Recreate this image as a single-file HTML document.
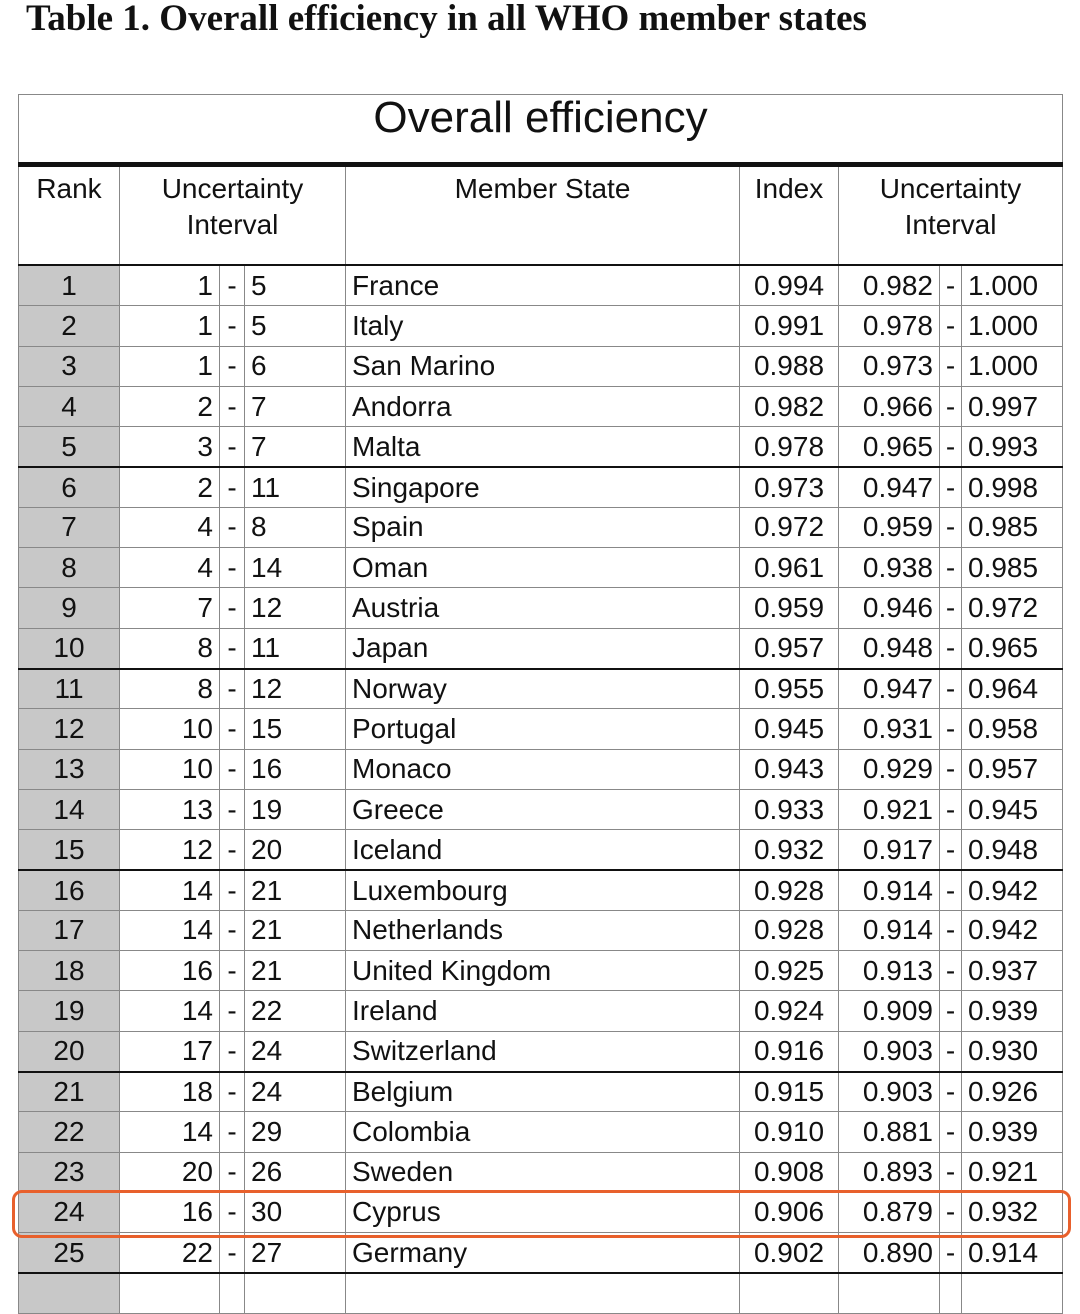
<!DOCTYPE html>
<html><head><meta charset="utf-8"><style>
body{margin:0;width:1080px;height:1279px;overflow:hidden;background:#fff;position:relative;font-family:"Liberation Sans",sans-serif;color:#111}
.t{position:absolute;left:26px;top:0;font-family:"Liberation Serif",serif;font-weight:bold;font-size:37px;line-height:38px;letter-spacing:0px}
table{position:absolute;left:18px;top:94px;border-collapse:collapse;table-layout:fixed;width:1044px}
td{border:1.5px solid #888;padding:0 6px;font-size:28px;height:39.3px;line-height:38px;white-space:nowrap;overflow:hidden}
td.r{background:#c8c8c8;text-align:center}
td.lo{text-align:right;border-right:1.5px solid #888}
td.d{text-align:center;padding:0}
td.up{text-align:left}
td.c{text-align:center}
tr.g td{border-top:2.5px solid #111;height:38.3px}
.h td{vertical-align:top;text-align:center;line-height:36px;padding-top:4px;height:93px;border-top:5px solid #111;border-bottom:2.5px solid #111}
.tt td{height:67px;font-size:44px;text-align:center;line-height:46px;vertical-align:top;border:1.5px solid #888}
.box{position:absolute;left:12px;top:1190px;width:1053px;height:42px;border:3px solid #e8602c;border-radius:10px}
</style></head><body>
<div class="t">Table 1. Overall efficiency in all WHO member states</div>
<table>
<colgroup><col style="width:101px"><col style="width:100px"><col style="width:25px"><col style="width:101px"><col style="width:394px"><col style="width:99px"><col style="width:101px"><col style="width:22px"><col style="width:101px"></colgroup>
<tr class="tt"><td colspan="9">Overall efficiency</td></tr>
<tr class="h"><td>Rank</td><td colspan="3">Uncertainty<br>Interval</td><td>Member State</td><td>Index</td><td colspan="3">Uncertainty<br>Interval</td></tr>
<tr><td class="r">1</td><td class="lo">1</td><td class="d">-</td><td class="up">5</td><td>France</td><td class="c">0.994</td><td class="lo">0.982</td><td class="d">-</td><td class="up">1.000</td></tr>
<tr><td class="r">2</td><td class="lo">1</td><td class="d">-</td><td class="up">5</td><td>Italy</td><td class="c">0.991</td><td class="lo">0.978</td><td class="d">-</td><td class="up">1.000</td></tr>
<tr><td class="r">3</td><td class="lo">1</td><td class="d">-</td><td class="up">6</td><td>San Marino</td><td class="c">0.988</td><td class="lo">0.973</td><td class="d">-</td><td class="up">1.000</td></tr>
<tr><td class="r">4</td><td class="lo">2</td><td class="d">-</td><td class="up">7</td><td>Andorra</td><td class="c">0.982</td><td class="lo">0.966</td><td class="d">-</td><td class="up">0.997</td></tr>
<tr><td class="r">5</td><td class="lo">3</td><td class="d">-</td><td class="up">7</td><td>Malta</td><td class="c">0.978</td><td class="lo">0.965</td><td class="d">-</td><td class="up">0.993</td></tr>
<tr class="g"><td class="r">6</td><td class="lo">2</td><td class="d">-</td><td class="up">11</td><td>Singapore</td><td class="c">0.973</td><td class="lo">0.947</td><td class="d">-</td><td class="up">0.998</td></tr>
<tr><td class="r">7</td><td class="lo">4</td><td class="d">-</td><td class="up">8</td><td>Spain</td><td class="c">0.972</td><td class="lo">0.959</td><td class="d">-</td><td class="up">0.985</td></tr>
<tr><td class="r">8</td><td class="lo">4</td><td class="d">-</td><td class="up">14</td><td>Oman</td><td class="c">0.961</td><td class="lo">0.938</td><td class="d">-</td><td class="up">0.985</td></tr>
<tr><td class="r">9</td><td class="lo">7</td><td class="d">-</td><td class="up">12</td><td>Austria</td><td class="c">0.959</td><td class="lo">0.946</td><td class="d">-</td><td class="up">0.972</td></tr>
<tr><td class="r">10</td><td class="lo">8</td><td class="d">-</td><td class="up">11</td><td>Japan</td><td class="c">0.957</td><td class="lo">0.948</td><td class="d">-</td><td class="up">0.965</td></tr>
<tr class="g"><td class="r">11</td><td class="lo">8</td><td class="d">-</td><td class="up">12</td><td>Norway</td><td class="c">0.955</td><td class="lo">0.947</td><td class="d">-</td><td class="up">0.964</td></tr>
<tr><td class="r">12</td><td class="lo">10</td><td class="d">-</td><td class="up">15</td><td>Portugal</td><td class="c">0.945</td><td class="lo">0.931</td><td class="d">-</td><td class="up">0.958</td></tr>
<tr><td class="r">13</td><td class="lo">10</td><td class="d">-</td><td class="up">16</td><td>Monaco</td><td class="c">0.943</td><td class="lo">0.929</td><td class="d">-</td><td class="up">0.957</td></tr>
<tr><td class="r">14</td><td class="lo">13</td><td class="d">-</td><td class="up">19</td><td>Greece</td><td class="c">0.933</td><td class="lo">0.921</td><td class="d">-</td><td class="up">0.945</td></tr>
<tr><td class="r">15</td><td class="lo">12</td><td class="d">-</td><td class="up">20</td><td>Iceland</td><td class="c">0.932</td><td class="lo">0.917</td><td class="d">-</td><td class="up">0.948</td></tr>
<tr class="g"><td class="r">16</td><td class="lo">14</td><td class="d">-</td><td class="up">21</td><td>Luxembourg</td><td class="c">0.928</td><td class="lo">0.914</td><td class="d">-</td><td class="up">0.942</td></tr>
<tr><td class="r">17</td><td class="lo">14</td><td class="d">-</td><td class="up">21</td><td>Netherlands</td><td class="c">0.928</td><td class="lo">0.914</td><td class="d">-</td><td class="up">0.942</td></tr>
<tr><td class="r">18</td><td class="lo">16</td><td class="d">-</td><td class="up">21</td><td>United Kingdom</td><td class="c">0.925</td><td class="lo">0.913</td><td class="d">-</td><td class="up">0.937</td></tr>
<tr><td class="r">19</td><td class="lo">14</td><td class="d">-</td><td class="up">22</td><td>Ireland</td><td class="c">0.924</td><td class="lo">0.909</td><td class="d">-</td><td class="up">0.939</td></tr>
<tr><td class="r">20</td><td class="lo">17</td><td class="d">-</td><td class="up">24</td><td>Switzerland</td><td class="c">0.916</td><td class="lo">0.903</td><td class="d">-</td><td class="up">0.930</td></tr>
<tr class="g"><td class="r">21</td><td class="lo">18</td><td class="d">-</td><td class="up">24</td><td>Belgium</td><td class="c">0.915</td><td class="lo">0.903</td><td class="d">-</td><td class="up">0.926</td></tr>
<tr><td class="r">22</td><td class="lo">14</td><td class="d">-</td><td class="up">29</td><td>Colombia</td><td class="c">0.910</td><td class="lo">0.881</td><td class="d">-</td><td class="up">0.939</td></tr>
<tr><td class="r">23</td><td class="lo">20</td><td class="d">-</td><td class="up">26</td><td>Sweden</td><td class="c">0.908</td><td class="lo">0.893</td><td class="d">-</td><td class="up">0.921</td></tr>
<tr><td class="r">24</td><td class="lo">16</td><td class="d">-</td><td class="up">30</td><td>Cyprus</td><td class="c">0.906</td><td class="lo">0.879</td><td class="d">-</td><td class="up">0.932</td></tr>
<tr><td class="r">25</td><td class="lo">22</td><td class="d">-</td><td class="up">27</td><td>Germany</td><td class="c">0.902</td><td class="lo">0.890</td><td class="d">-</td><td class="up">0.914</td></tr>
<tr class="g"><td class="r"></td><td class="lo"></td><td class="d"></td><td class="up"></td><td></td><td class="c"></td><td class="lo"></td><td class="d"></td><td class="up"></td></tr>
</table>
<div class="box"></div>
</body></html>
